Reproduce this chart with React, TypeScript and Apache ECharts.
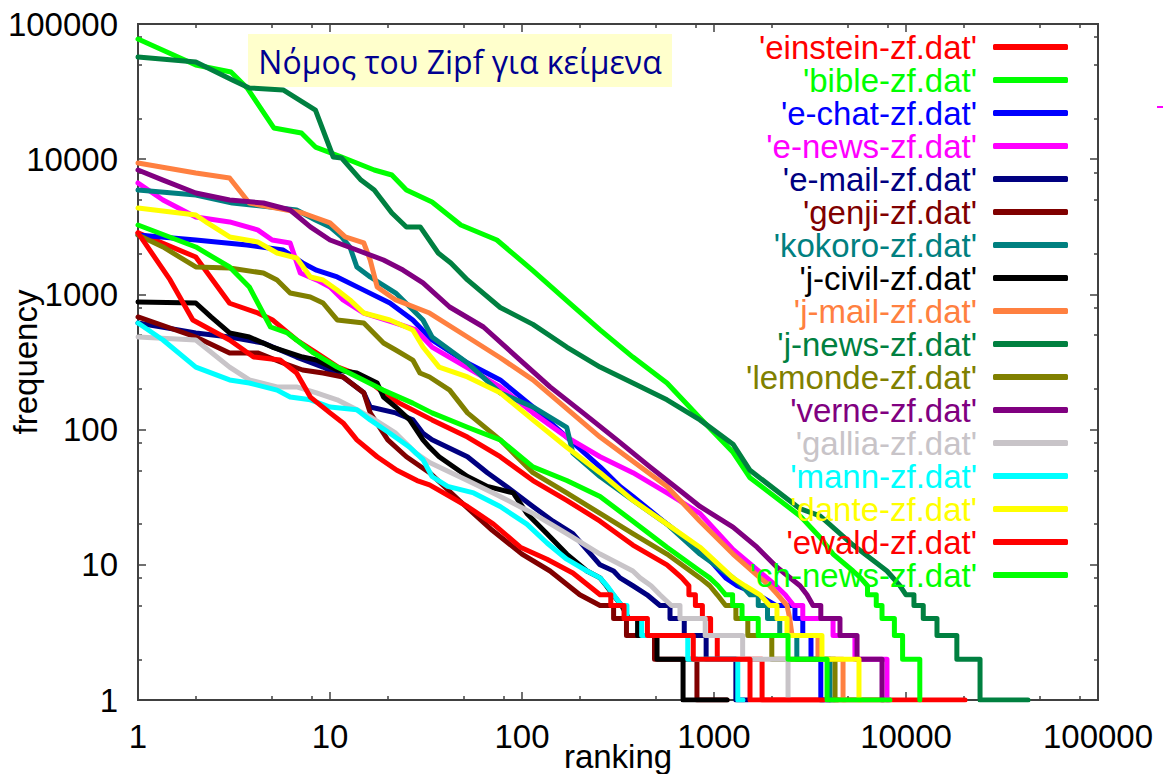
import React, { useEffect, useRef } from 'react';
import * as echarts from 'echarts';

const seriesNames = [
  "'einstein-zf.dat'", "'bible-zf.dat'", "'e-chat-zf.dat'", "'e-news-zf.dat'",
  "'e-mail-zf.dat'", "'genji-zf.dat'", "'kokoro-zf.dat'", "'j-civil-zf.dat'",
  "'j-mail-zf.dat'", "'j-news-zf.dat'", "'lemonde-zf.dat'", "'verne-zf.dat'",
  "'gallia-zf.dat'", "'mann-zf.dat'", "'dante-zf.dat'", "'ewald-zf.dat'", "'ch-news-zf.dat'",
];
const seriesColors = [
  '#ff0000', '#00ff00', '#0000ff', '#ff00ff', '#000080', '#800000', '#008080', '#000000',
  '#ff8040', '#008040', '#808000', '#800080', '#c8c4c8', '#00ffff', '#ffff00', '#ff0000', '#00ff00',
];

// [rank, frequency]
const einstein = [[1,2850],[2,1890],[3,860],[4.2,730],[5,650],[6.7,460],[8.5,370],[11,290],[15,245],[19,187],[23,157],[34,118],[52,88],[77,63],[114,42],[171,30],[255,21],[378,14],[569,10],[620,9],[680,8],[740,7],[740,6],[800,6],[800,5],[870,5],[870,4],[960,4],[960,3],[1040,3],[1040,2],[1780,2],[1780,1],[20300,1]];
const bible = [[1,77450],[2,49750],[3.05,44150],[3.7,33640],[5.1,17020],[7.1,15620],[8.4,12300],[11.5,10380],[17,8320],[21,7640],[25,5920],[34,4820],[48,3260],[74,2525],[114,1500],[171,900],[255,546],[378,344],[569,221],[845,122],[1256,68],[1540,44],[2805,23],[3565,16],[4170,12],[5300,9],[5800,8],[6300,7],[6300,6],[7000,6],[7000,5],[7500,5],[7500,4],[8700,4],[8700,3],[9600,3],[9600,2],[11800,2],[11800,1],[11900,1]];
const eChat = [[1,2750],[2,2525],[3.7,2320],[5.7,2130],[7.2,1710],[8.5,1510],[10.9,1345],[14.9,1080],[20.5,864],[27,647],[34,460],[52,311],[77,233],[114,147],[171,88],[255,53],[324,38],[378,32],[569,20],[845,13],[1000,10],[1150,8],[1320,7],[1700,6],[2100,5],[2640,5],[2640,4],[2900,4],[2900,3],[3200,3],[3200,2],[3600,2],[3600,1],[4000,1]];
const eNews = [[1,6670],[1.35,4990],[2,3735],[3,3435],[4.2,3000],[5,2525],[6.2,2400],[7,1440],[8.5,1280],[10,1135],[11.7,910],[15,728],[22,614],[28,546],[34,408],[77,207],[114,133],[171,88],[255,63],[378,48],[569,34],[845,24],[1256,13],[1888,8],[2100,7],[2350,6],[2600,5],[2900,5],[2900,4],[4170,4],[4170,3],[5420,3],[5420,2],[7960,2],[7960,1],[8100,1]];
const eMail = [[1,614],[2,519],[3,484],[4.5,437],[6.7,344],[9.2,290],[11.7,245],[15,187],[16.2,147],[22,133],[27,118],[30.5,94],[34,84],[52,63],[66,48],[83,38],[114,27],[145,21],[184,17],[255,10],[300,9],[324,8],[378,7],[448,6],[523,5],[590,5],[590,4],[700,4],[700,3],[910,3],[910,2],[1300,2],[1300,1],[1500,1]];
const genji = [[1,681],[2,484],[3,369],[4.2,369],[5.7,311],[7.2,276],[9.2,262],[11.7,245],[15,187],[16.2,133],[20,84],[25,63],[33,48],[47,30],[70,18],[100,12],[140,9],[200,6],[255,5],[300,5],[300,4],[350,4],[350,3],[490,3],[490,2],[815,2],[815,1],[1170,1]];
const kokoro = [[1,5920],[2,5430],[3.1,4745],[4.9,4430],[6.7,4210],[8.4,3550],[10,3154],[11.5,2660],[12.7,2243],[13.8,1595],[16.2,1345],[22,1024],[30.5,647],[34,484],[52,311],[77,187],[114,147],[171,104],[184,67],[255,45],[378,30],[569,20],[845,12],[1256,8],[1400,7],[1540,6],[1700,6],[1700,5],[1900,5],[1900,4],[2200,4],[2200,3],[2700,3],[2700,2],[4020,2],[4020,1],[4200,1]];
const jCivil = [[1,880],[2,864],[2.4,681],[3,519],[3.8,484],[5,408],[7.2,344],[8.5,327],[10.9,276],[13.8,262],[17.6,221],[19,174],[22,147],[26,118],[30.5,84],[33,74],[37,63],[52,45],[66,38],[90,34],[106,24],[135,17],[171,12],[218,9],[255,8],[275,7],[298,6],[330,5],[360,4],[400,4],[400,3],[505,3],[505,2],[690,2],[690,1],[1170,1]];
const jMail = [[1,9370],[2,7900],[3,7260],[3.8,4745],[4.9,4430],[7.2,4000],[10,3376],[12,2660],[15,2400],[16.2,1796],[17.6,1135],[22,910],[33,728],[52,484],[77,340],[114,233],[255,88],[569,38],[845,21],[1256,12],[1737,8],[1950,7],[2150,6],[2400,5],[2480,4],[2550,3],[3480,3],[3480,2],[4700,2],[4700,1],[4800,1]];
const jNews = [[1,57000],[2,52360],[3.1,38550],[3.8,33640],[5.7,32500],[8.4,23100],[10.4,10380],[11.5,10200],[14.5,7010],[17,5920],[21,4000],[25,3154],[29.5,3154],[36.6,2023],[42.6,1706],[52,1280],[77,800],[114,600],[171,408],[255,290],[378,221],[569,166],[845,118],[1256,78],[1540,50],[2805,26],[3565,23],[5300,14],[7960,9],[9300,7],[10000,6],[11000,6],[11000,5],[12300,5],[12300,4],[14500,4],[14500,3],[18400,3],[18400,2],[24300,2],[24300,1],[43200,1]];
const lemonde = [[1,2750],[1.35,2243],[2,1595],[3,1566],[4.5,1439],[5.3,1279],[6.2,1024],[7.9,957],[9.2,864],[10.9,647],[15,614],[19,437],[22,388],[27,327],[29.4,262],[33,245],[42,196],[52,133],[77,84],[94,63],[114,48],[171,34],[255,24],[378,17],[569,12],[845,8],[950,7],[1040,6],[1150,5],[1300,5],[1300,4],[1500,4],[1500,3],[2000,3],[2000,2],[4270,2],[4270,1],[4400,1]];
const verne = [[1,8320],[1.35,7010],[2,5620],[3,4990],[4.5,4745],[6.2,4210],[7.9,3154],[10,2525],[13.8,2130],[19,1796],[24,1514],[30.5,1215],[42,807],[63,574],[94,344],[140,207],[208,133],[312,84],[464,53],[690,34],[845,27],[1256,19],[1675,13.5],[2128,9.6],[2805,7],[3050,6],[3280,5],[3600,5],[3600,4],[4530,4],[4530,3],[5560,3],[5560,2],[7500,2],[7500,1],[7600,1]];
const gallia = [[1,484],[2,460],[3,290],[3.8,233],[5.3,207],[6.7,207],[8.5,187],[10.9,166],[13.8,140],[16.2,124],[22,94],[28,67],[33,57],[52,42],[77,32],[114,24],[171,17],[255,12],[378,9],[412,8],[470,7],[523,6],[600,5],[665,5],[665,4],[900,4],[900,3],[1410,3],[1410,2],[2430,2],[2430,1],[2500,1]];
const mann = [[1,614],[1.35,460],[2,290],[3,233],[3.8,221],[5.3,196],[6.2,174],[7.9,166],[10,147],[13.8,140],[16.2,118],[20.5,94],[26,74],[30.5,60],[34,45],[41,38],[56,34],[77,27],[106,20],[135,14.5],[171,11],[218,9],[255,8],[277,7],[300,6],[330,5],[352,5],[352,4],[420,4],[420,3],[730,3],[730,2],[1330,2],[1330,1],[1415,1]];
const dante = [[1,4360],[2,3865],[2.3,3376],[3,2660],[4.2,2443],[5.3,2023],[6.7,1858],[7.9,1345],[9.2,1279],[10.9,1079],[12.7,910],[15,728],[20.5,647],[27,546],[30.5,408],[37,290],[52,245],[77,187],[114,118],[171,74],[255,48],[378,30],[569,20],[845,13.5],[1256,8],[1450,7],[1737,6],[1950,5],[2128,5],[2128,4],[2400,4],[2400,3],[3650,3],[3650,2],[5690,2],[5690,1],[5800,1]];
const ewald = [[1,2850],[1.47,1280],[1.93,647],[3,460],[4,344],[5.5,327],[6.7,262],[7.9,174],[10,133],[11.7,112],[13.8,84],[17.6,63],[22.3,50],[28.4,42],[33,39],[52,27],[71,20],[98,13.5],[135,11],[184,8.7],[255,6],[290,6],[290,5],[340,5],[340,4],[450,4],[450,3],[780,3],[780,2],[1540,2],[1540,1],[3700,1]];
const chNews = [[1,3260],[2,2243],[3,1595],[3.8,1135],[4.9,574],[6,519],[8.2,369],[10.9,290],[14.9,233],[18.9,196],[27,157],[34,133],[52,104],[77,84],[114,53],[171,42],[255,32],[378,21],[569,13.5],[845,9],[950,8],[1050,7],[1150,6],[1250,6],[1250,5],[1400,5],[1400,4],[1700,4],[1700,3],[2430,3],[2430,2],[3880,2],[3880,1],[8250,1]];

const seriesData = [einstein, bible, eChat, eNews, eMail, genji, kokoro, jCivil, jMail, jNews, lemonde, verne, gallia, mann, dante, ewald, chNews];

const xMinorTicks = [2,5,8,20,50,80,200,500,800,2000,5000,8000,20000,50000,80000];
const yMinorTicks = [2,5,8,20,50,80,200,500,800,2000,5000,8000,20000,50000,80000];
const titleText = 'Νόμος του Zipf για κείμενα';
const xName = 'ranking';
const yName = 'frequency';

const FONT = "'Liberation Sans', Arial, sans-serif";
const FRAME = '#404040';

function makeAxis(position: string, isMajor: boolean, minors: number[], extra: any = {}) {
  return {
    type: 'log', logBase: 10, min: 1, max: 100000, position,
    splitLine: { show: false },
    axisLine: { show: false },
    axisTick: isMajor
      ? { show: true, inside: true, length: 8, lineStyle: { color: FRAME, width: 1.5 } }
      : { show: true, inside: true, length: 4, customValues: minors, lineStyle: { color: FRAME, width: 1.5 } },
    axisLabel: { show: false },
    ...extra,
  };
}

export default function App() {
  const ref = useRef<HTMLDivElement>(null);
  useEffect(() => {
    if (!ref.current) return;
    const chart = echarts.init(ref.current, null, { renderer: 'svg' });
    const labelStyle = {
      show: true, fontSize: 33, color: '#000', fontFamily: FONT,
      formatter: (v: number) => String(Math.round(v)),
    };
    chart.setOption({
      animation: false,
      backgroundColor: '#ffffff',
      grid: {
        left: 138, right: 66, top: 24, bottom: 74, containLabel: false, outerBoundsMode: 'none',
        show: true, borderColor: FRAME, borderWidth: 2, backgroundColor: 'transparent',
      },
      legend: {
        orient: 'vertical', right: 96, top: 30.5, padding: 0, itemGap: 0,
        align: 'right', icon: 'roundRect', itemWidth: 75, itemHeight: 6,
        selectedMode: false,
        textStyle: { fontSize: 33, lineHeight: 25, fontFamily: FONT, padding: [0, 11, 0, 0] },
        data: seriesNames.map((n, i) => ({ name: n, textStyle: { color: seriesColors[i] } })),
      },
      xAxis: [
        makeAxis('bottom', true, [], {
          axisLabel: { ...labelStyle, margin: 20 },
          name: xName, nameLocation: 'middle', nameGap: 40, nameMoveOverlap: false,
          nameTextStyle: { fontSize: 33, color: '#000', fontFamily: FONT },
        }),
        makeAxis('bottom', false, xMinorTicks),
        makeAxis('top', true, []),
        makeAxis('top', false, xMinorTicks),
      ],
      yAxis: [
        makeAxis('left', true, [], {
          axisLabel: { ...labelStyle, margin: 20 },
          name: yName, nameLocation: 'middle', nameGap: 96, nameRotate: 90, nameMoveOverlap: false,
          nameTextStyle: { fontSize: 33, color: '#000', fontFamily: FONT },
        }),
        makeAxis('left', false, yMinorTicks),
        makeAxis('right', true, []),
        makeAxis('right', false, yMinorTicks),
      ],
      series: seriesData.map((d, i) => ({
        name: seriesNames[i], type: 'line', data: d, xAxisIndex: 0, yAxisIndex: 0,
        showSymbol: false, symbol: 'none', color: seriesColors[i],
        lineStyle: { width: 5, color: seriesColors[i], cap: 'round', join: 'round' },
        clip: true,
      })),
      graphic: [
        {
          type: 'group', z: 100,
          children: [
            { type: 'rect', shape: { x: 248, y: 34, width: 424, height: 53 }, style: { fill: '#ffffcc' } },
            {
              type: 'text', x: 460, y: 61,
              style: { text: titleText, fontSize: 32, fontFamily: "'Open Sans', 'Noto Sans', sans-serif", fill: '#000090', align: 'center', verticalAlign: 'middle' },
            },
          ],
        },
        { type: 'rect', z: 100, shape: { x: 1157, y: 106, width: 6, height: 2 }, style: { fill: '#ff00ff' } },
      ],
    });
    return () => chart.dispose();
  }, []);
  return <div ref={ref} style={{ position: 'fixed', left: 0, top: 0, width: 1164, height: 774 }} />;
}
